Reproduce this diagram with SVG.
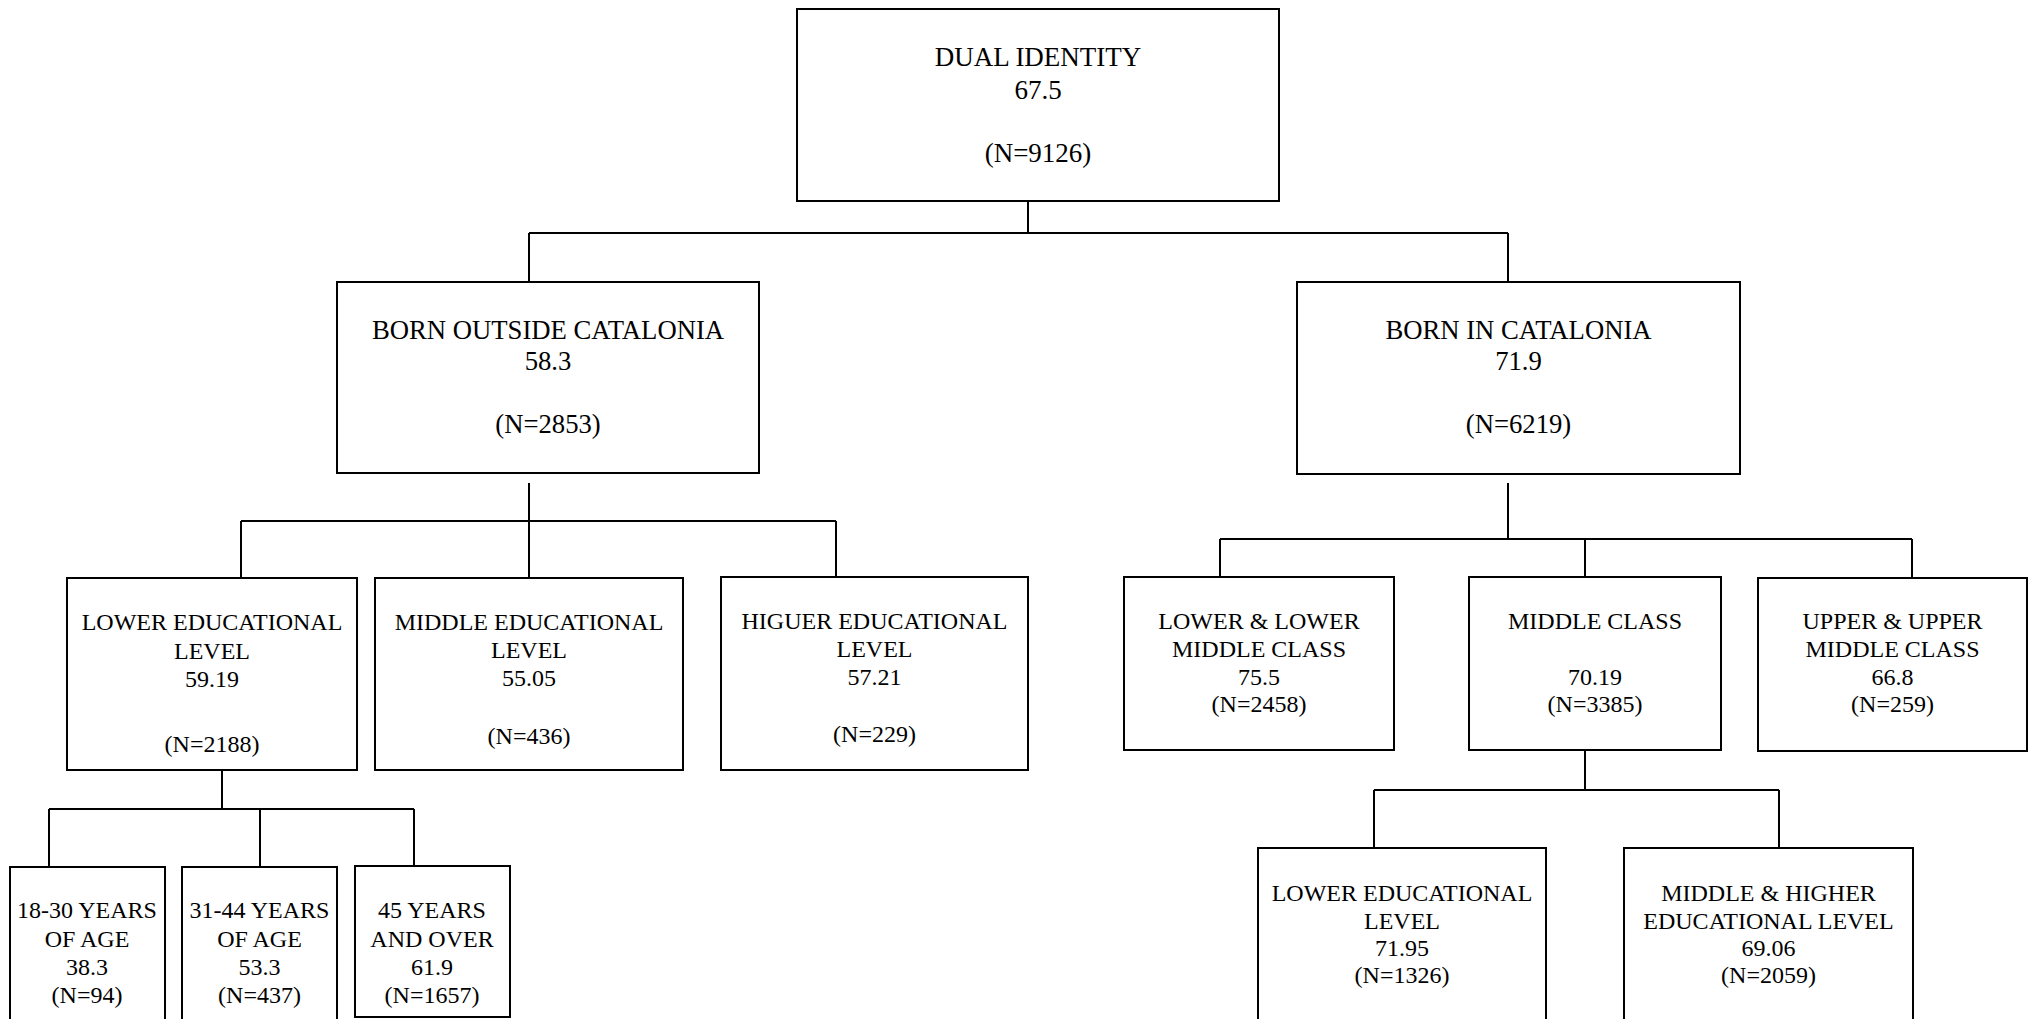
<svg xmlns="http://www.w3.org/2000/svg" width="2033" height="1019" viewBox="0 0 2033 1019">
<style>
.box{fill:#fff;stroke:#000;stroke-width:2}
.ln{fill:none;stroke:#000;stroke-width:2}
text{font-family:"Liberation Serif","Times New Roman",serif;fill:#000;text-anchor:middle}
.t1{font-size:27px}
.t2{font-size:26.7px}
.t3{font-size:24px}
</style>
<rect width="2033" height="1019" fill="#fff"/>
<g id="connectors">
<path class="ln" d="M1028 201V233M529 233H1508M529 233V282M1508 233V282"/>
<path class="ln" d="M529 483V521M241 521H836M241 521V578M529 521V578M836 521V577"/>
<path class="ln" d="M1508 483V539M1220 539H1912M1220 539V577M1585 539V577M1912 539V578"/>
<path class="ln" d="M222 770V809M49 809H414M49 809V867M260 809V867M414 809V866"/>
<path class="ln" d="M1585 750V790M1374 790H1779M1374 790V848M1779 790V848"/>
</g>
<g id="n-dual">
<rect class="box" x="797" y="9" width="482" height="192"/>
<text class="t1" x="1038" y="66">DUAL IDENTITY</text>
<text class="t1" x="1038" y="99">67.5</text>
<text class="t1" x="1038" y="162">(N=9126)</text>
</g>
<g id="n-outside">
<rect class="box" x="337" y="282" width="422" height="191"/>
<text class="t2" x="548" y="339">BORN OUTSIDE CATALONIA</text>
<text class="t2" x="548" y="370">58.3</text>
<text class="t2" x="548" y="433">(N=2853)</text>
</g>
<g id="n-in">
<rect class="box" x="1297" y="282" width="443" height="192"/>
<text class="t2" x="1518.5" y="339">BORN IN CATALONIA</text>
<text class="t2" x="1518.5" y="370">71.9</text>
<text class="t2" x="1518.5" y="433">(N=6219)</text>
</g>
<g id="n-lowedu">
<rect class="box" x="67" y="578" width="290" height="192"/>
<text class="t3" x="212" y="630">LOWER EDUCATIONAL</text>
<text class="t3" x="212" y="659">LEVEL</text>
<text class="t3" x="212" y="687">59.19</text>
<text class="t3" x="212" y="752">(N=2188)</text>
</g>
<g id="n-midedu">
<rect class="box" x="375" y="578" width="308" height="192"/>
<text class="t3" x="529" y="630">MIDDLE EDUCATIONAL</text>
<text class="t3" x="529" y="658">LEVEL</text>
<text class="t3" x="529" y="686">55.05</text>
<text class="t3" x="529" y="744">(N=436)</text>
</g>
<g id="n-higedu">
<rect class="box" x="721" y="577" width="307" height="193"/>
<text class="t3" x="874.5" y="629">HIGUER EDUCATIONAL</text>
<text class="t3" x="874.5" y="657">LEVEL</text>
<text class="t3" x="874.5" y="685">57.21</text>
<text class="t3" x="874.5" y="742">(N=229)</text>
</g>
<g id="n-lowclass">
<rect class="box" x="1124" y="577" width="270" height="173"/>
<text class="t3" x="1259" y="629">LOWER &amp; LOWER</text>
<text class="t3" x="1259" y="657">MIDDLE CLASS</text>
<text class="t3" x="1259" y="685">75.5</text>
<text class="t3" x="1259" y="712">(N=2458)</text>
</g>
<g id="n-midclass">
<rect class="box" x="1469" y="577" width="252" height="173"/>
<text class="t3" x="1595" y="629">MIDDLE CLASS</text>
<text class="t3" x="1595" y="685">70.19</text>
<text class="t3" x="1595" y="712">(N=3385)</text>
</g>
<g id="n-upclass">
<rect class="box" x="1758" y="578" width="269" height="173"/>
<text class="t3" x="1892.5" y="629">UPPER &amp; UPPER</text>
<text class="t3" x="1892.5" y="657">MIDDLE CLASS</text>
<text class="t3" x="1892.5" y="685">66.8</text>
<text class="t3" x="1892.5" y="712">(N=259)</text>
</g>
<g id="n-age1">
<rect class="box" x="10" y="867" width="155" height="170"/>
<text class="t3" x="87" y="918">18-30 YEARS</text>
<text class="t3" x="87" y="947">OF AGE</text>
<text class="t3" x="87" y="975">38.3</text>
<text class="t3" x="87" y="1003">(N=94)</text>
</g>
<g id="n-age2">
<rect class="box" x="182" y="867" width="155" height="170"/>
<text class="t3" x="259.5" y="918">31-44 YEARS</text>
<text class="t3" x="259.5" y="947">OF AGE</text>
<text class="t3" x="259.5" y="975">53.3</text>
<text class="t3" x="259.5" y="1003">(N=437)</text>
</g>
<g id="n-age3">
<rect class="box" x="355" y="866" width="155" height="151"/>
<text class="t3" x="432" y="918">45 YEARS</text>
<text class="t3" x="432" y="947">AND OVER</text>
<text class="t3" x="432" y="975">61.9</text>
<text class="t3" x="432" y="1003">(N=1657)</text>
</g>
<g id="n-mc-lowedu">
<rect class="box" x="1258" y="848" width="288" height="190"/>
<text class="t3" x="1402" y="901">LOWER EDUCATIONAL</text>
<text class="t3" x="1402" y="929">LEVEL</text>
<text class="t3" x="1402" y="956">71.95</text>
<text class="t3" x="1402" y="983">(N=1326)</text>
</g>
<g id="n-mc-midhigh">
<rect class="box" x="1624" y="848" width="289" height="190"/>
<text class="t3" x="1768.5" y="901">MIDDLE &amp; HIGHER</text>
<text class="t3" x="1768.5" y="929">EDUCATIONAL LEVEL</text>
<text class="t3" x="1768.5" y="956">69.06</text>
<text class="t3" x="1768.5" y="983">(N=2059)</text>
</g>
</svg>
